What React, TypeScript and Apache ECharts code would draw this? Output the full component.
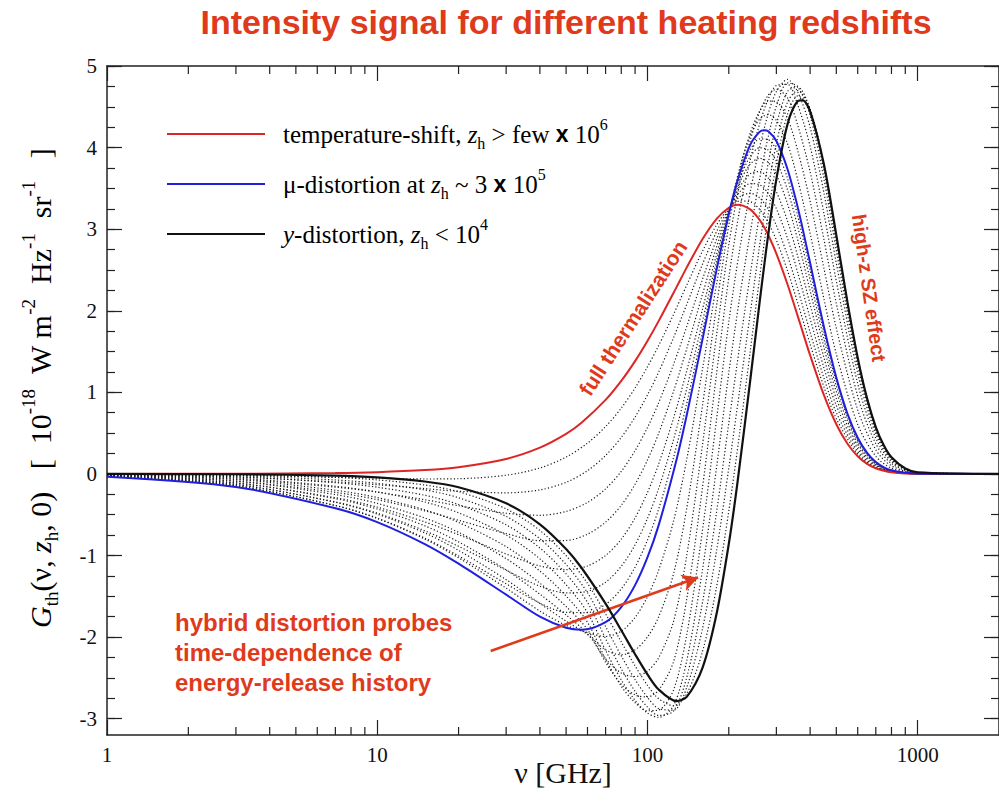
import { useEffect, useRef } from 'react';
import * as echarts from 'echarts';

// Frequency grid [GHz] of the three main curves
const mainFrequencies = [1, 3, 7, 10, 15, 20, 30, 40, 50, 57, 70, 80, 90, 100, 110, 128, 140, 160, 180, 200, 215, 240, 260, 270, 280, 300, 330, 360, 375, 400, 450, 500, 550, 600, 650, 700, 750, 800, 900, 1000, 2000];

// Main curves [1e-18 W m^-2 Hz^-1 sr^-1]
const temperatureShift = [0.0002, 0.0019, 0.0103, 0.021, 0.047, 0.083, 0.184, 0.322, 0.491, 0.627, 0.907, 1.14, 1.383, 1.63, 1.873, 2.287, 2.535, 2.88, 3.124, 3.263, 3.299, 3.243, 3.114, 3.027, 2.928, 2.7, 2.322, 1.934, 1.747, 1.454, 0.965, 0.609, 0.37, 0.217, 0.124, 0.069, 0.038, 0.02, 0.0056, 0.0015, 0];
const muDistortion = [-0.035, -0.16, -0.42, -0.59, -0.86, -1.1, -1.48, -1.75, -1.886, -1.911, -1.817, -1.632, -1.363, -1.024, -0.631, 0.168, 0.731, 1.655, 2.492, 3.184, 3.588, 4.033, 4.192, 4.213, 4.199, 4.08, 3.734, 3.267, 3.012, 2.585, 1.801, 1.181, 0.738, 0.444, 0.259, 0.146, 0.081, 0.044, 0.013, 0.0034, 0];
const yDistortion = [-0.0004, -0.0038, -0.0205, -0.042, -0.093, -0.164, -0.36, -0.617, -0.92, -1.15, -1.59, -1.916, -2.21, -2.457, -2.642, -2.784, -2.729, -2.374, -1.724, -0.859, -0.125, 1.142, 2.099, 2.536, 2.937, 3.612, 4.288, 4.57, 4.58, 4.445, 3.792, 2.927, 2.102, 1.425, 0.923, 0.575, 0.348, 0.205, 0.067, 0.02, 0];

// Frequency grid [GHz] of the dotted intermediate curves
const frequencies = [1, 3, 7, 10, 15, 20, 30, 40, 50, 60, 70, 80, 90, 100, 110, 125, 140, 160, 180, 200, 220, 240, 260, 280, 300, 330, 360, 400, 450, 500, 600, 700, 800, 1000, 2000];

// Intermediate (hybrid) curves between mu and y
const hybridMuY1 = [-0.002, -0.012, -0.043, -0.073, -0.136, -0.218, -0.428, -0.693, -1.002, -1.341, -1.715, -2.059, -2.353, -2.59, -2.755, -2.842, -2.689, -2.173, -1.394, -0.457, 0.53, 1.5, 2.403, 3.185, 3.806, 4.412, 4.633, 4.466, 3.787, 2.916, 1.419, 0.573, 0.204, 0.019, 0];
const hybridMuY2 = [-0.005, -0.023, -0.074, -0.115, -0.196, -0.292, -0.521, -0.795, -1.11, -1.456, -1.871, -2.23, -2.52, -2.739, -2.876, -2.895, -2.61, -1.891, -0.954, 0.07, 1.053, 1.964, 2.794, 3.5, 4.048, 4.559, 4.699, 4.475, 3.764, 2.887, 1.402, 0.566, 0.201, 0.018, 0];
const hybridMuY3 = [-0.007, -0.035, -0.108, -0.163, -0.262, -0.375, -0.624, -0.908, -1.225, -1.574, -2.019, -2.387, -2.665, -2.858, -2.96, -2.904, -2.485, -1.568, -0.481, 0.622, 1.594, 2.44, 3.19, 3.813, 4.282, 4.689, 4.741, 4.457, 3.714, 2.834, 1.373, 0.553, 0.197, 0.017, 0];
const hybridMuY4 = [-0.011, -0.051, -0.151, -0.221, -0.344, -0.476, -0.749, -1.041, -1.357, -1.7, -2.162, -2.524, -2.775, -2.93, -2.984, -2.839, -2.279, -1.165, 0.066, 1.236, 2.187, 2.954, 3.609, 4.135, 4.508, 4.794, 4.746, 4.391, 3.615, 2.739, 1.32, 0.53, 0.188, 0.015, 0];
const hybridMuY5 = [-0.015, -0.069, -0.2, -0.289, -0.44, -0.594, -0.891, -1.19, -1.496, -1.818, -2.27, -2.601, -2.804, -2.903, -2.894, -2.646, -1.958, -0.682, 0.656, 1.862, 2.773, 3.452, 4.001, 4.417, 4.686, 4.835, 4.68, 4.248, 3.443, 2.584, 1.232, 0.492, 0.174, 0.013, 0];
const hybridMuY6 = [-0.019, -0.09, -0.253, -0.361, -0.54, -0.716, -1.038, -1.339, -1.625, -1.908, -2.309, -2.577, -2.709, -2.733, -2.65, -2.298, -1.519, -0.158, 1.214, 2.404, 3.256, 3.846, 4.29, 4.596, 4.76, 4.775, 4.522, 4.016, 3.192, 2.363, 1.108, 0.438, 0.154, 0.011, 0];
const hybridMuY7 = [-0.024, -0.11, -0.303, -0.43, -0.636, -0.833, -1.176, -1.474, -1.729, -1.958, -2.267, -2.441, -2.483, -2.418, -2.254, -1.804, -0.986, 0.366, 1.687, 2.804, 3.58, 4.087, 4.436, 4.644, 4.714, 4.608, 4.272, 3.702, 2.873, 2.088, 0.954, 0.37, 0.128, 0.009, 0];
const hybridMuY8 = [-0.028, -0.129, -0.348, -0.492, -0.723, -0.937, -1.296, -1.587, -1.805, -1.967, -2.156, -2.217, -2.156, -1.999, -1.753, -1.22, -0.409, 0.849, 2.049, 3.047, 3.738, 4.175, 4.445, 4.571, 4.562, 4.357, 3.96, 3.341, 2.519, 1.786, 0.784, 0.296, 0.1, 0.007, 0];
const hybridMuY9 = [-0.032, -0.146, -0.388, -0.546, -0.799, -1.028, -1.4, -1.681, -1.856, -1.945, -1.993, -1.928, -1.759, -1.505, -1.181, -0.575, 0.19, 1.292, 2.317, 3.164, 3.763, 4.141, 4.348, 4.405, 4.333, 4.046, 3.605, 2.949, 2.144, 1.469, 0.606, 0.217, 0.071, 0.005, 0];

// Intermediate (hybrid) curves between temperature shift and mu
const hybridTMu1 = [-0.032, -0.147, -0.386, -0.541, -0.787, -1.005, -1.347, -1.584, -1.696, -1.699, -1.599, -1.41, -1.143, -0.812, -0.431, 0.205, 0.875, 1.753, 2.543, 3.19, 3.668, 3.97, 4.106, 4.097, 3.97, 3.621, 3.16, 2.495, 1.734, 1.135, 0.426, 0.14, 0.042, 0.003, 0];
const hybridTMu2 = [-0.029, -0.131, -0.343, -0.48, -0.697, -0.887, -1.18, -1.377, -1.458, -1.439, -1.327, -1.133, -0.869, -0.546, -0.18, 0.424, 1.056, 1.876, 2.606, 3.198, 3.628, 3.891, 3.998, 3.97, 3.832, 3.48, 3.027, 2.381, 1.651, 1.078, 0.403, 0.132, 0.04, 0.003, 0];
const hybridTMu3 = [-0.024, -0.111, -0.291, -0.407, -0.588, -0.745, -0.981, -1.128, -1.173, -1.128, -1.0, -0.8, -0.539, -0.228, 0.12, 0.687, 1.272, 2.023, 2.682, 3.208, 3.579, 3.796, 3.869, 3.818, 3.666, 3.31, 2.867, 2.246, 1.55, 1.009, 0.376, 0.123, 0.037, 0.003, 0];
const hybridTMu4 = [-0.019, -0.087, -0.226, -0.315, -0.452, -0.568, -0.731, -0.818, -0.816, -0.739, -0.591, -0.385, -0.127, 0.17, 0.496, 1.016, 1.543, 2.206, 2.776, 3.22, 3.519, 3.678, 3.707, 3.627, 3.459, 3.099, 2.667, 2.076, 1.425, 0.924, 0.342, 0.111, 0.033, 0.003, 0];
const hybridTMu5 = [-0.014, -0.063, -0.162, -0.223, -0.316, -0.39, -0.482, -0.507, -0.46, -0.35, -0.183, 0.031, 0.285, 0.568, 0.871, 1.345, 1.813, 2.39, 2.871, 3.231, 3.459, 3.559, 3.545, 3.436, 3.252, 2.887, 2.467, 1.906, 1.299, 0.838, 0.308, 0.1, 0.03, 0.002, 0];
const hybridTMu6 = [-0.009, -0.039, -0.097, -0.132, -0.18, -0.213, -0.232, -0.196, -0.103, 0.04, 0.226, 0.447, 0.697, 0.967, 1.247, 1.673, 2.084, 2.574, 2.966, 3.243, 3.399, 3.441, 3.384, 3.246, 3.045, 2.675, 2.267, 1.737, 1.174, 0.752, 0.274, 0.088, 0.026, 0.002, 0];
const hybridTMu7 = [-0.004, -0.018, -0.041, -0.052, -0.062, -0.059, -0.016, 0.073, 0.206, 0.377, 0.58, 0.807, 1.053, 1.312, 1.573, 1.958, 2.319, 2.733, 3.048, 3.254, 3.346, 3.338, 3.243, 3.081, 2.866, 2.491, 2.094, 1.59, 1.065, 0.678, 0.244, 0.078, 0.023, 0.002, 0];

// Axis tick values
const xMinorTicks = [2, 3, 4, 5, 6, 7, 8, 9, 20, 30, 40, 50, 60, 70, 80, 90, 200, 300, 400, 500, 600, 700, 800, 900];
const yMajorTicks = [-3, -2, -1, 0, 1, 2, 3, 4, 5];
const yMinorTicks = [-3, -2.75, -2.5, -2.25, -2, -1.75, -1.5, -1.25, -1, -0.75, -0.5, -0.25, 0, 0.25, 0.5, 0.75, 1, 1.25, 1.5, 1.75, 2, 2.25, 2.5, 2.75, 3, 3.25, 3.5, 3.75, 4, 4.25, 4.5, 4.75, 5];

const hybridCurves = [
  hybridTMu1, hybridTMu2, hybridTMu3, hybridTMu4, hybridTMu5, hybridTMu6, hybridTMu7,
  hybridMuY1, hybridMuY2, hybridMuY3, hybridMuY4, hybridMuY5, hybridMuY6, hybridMuY7, hybridMuY8, hybridMuY9,
];

const Y_MIN = -3.2;
const Y_MAX = 5;
const X_MIN = 1;
const X_MAX = 2000;

const SERIF = '"Liberation Serif", "Times New Roman", serif';
const SANS = '"Liberation Sans", Arial, Helvetica, sans-serif';
const ANNOT = '#e03a1c';
const AXIS = '#222';
const SMOOTH = 0.3;

const toPairs = (xs: number[], vals: number[]) => xs.map((f, i) => [f, vals[i]]);

const richBase = (size: number) => {
  const L = Math.round(size * 1.4);
  return {
    n: { fontFamily: SERIF, fontSize: size, color: '#111', lineHeight: L },
    i: { fontFamily: SERIF, fontSize: size, fontStyle: 'italic', color: '#111', lineHeight: L },
    s: { fontFamily: SERIF, fontSize: Math.round(size * 0.62), color: '#111', lineHeight: Math.round(size * 0.8), verticalAlign: 'bottom' },
    p: { fontFamily: SERIF, fontSize: Math.round(size * 0.64), color: '#111', lineHeight: Math.round(size * 0.5), verticalAlign: 'top' },
    x: { fontFamily: SANS, fontSize: size - 2, fontWeight: 'bold', color: '#111', lineHeight: L },
  };
};

function buildOption(): any {
  const dottedSeries = hybridCurves.map((vals) => ({
    type: 'line',
    data: toPairs(frequencies, vals),
    xAxisIndex: 0,
    yAxisIndex: 0,
    showSymbol: false,
    symbol: 'none',
    smooth: SMOOTH,
    silent: true,
    z: 2,
    lineStyle: { color: '#1a1a1a', width: 1.2, type: [1.2, 2.2] },
  }));

  const mainLine = (vals: number[], color: string, width: number, z: number) => ({
    type: 'line',
    data: toPairs(mainFrequencies, vals),
    xAxisIndex: 0,
    yAxisIndex: 0,
    showSymbol: false,
    symbol: 'none',
    smooth: SMOOTH,
    silent: true,
    z,
    lineStyle: { color, width },
  });

  const blackSeries: any = mainLine(yDistortion, '#111', 2.2, 5);
  blackSeries.markLine = {
    silent: true,
    symbol: ['none', 'arrow'],
    symbolSize: [13, 16],
    label: { show: false },
    lineStyle: { color: ANNOT, width: 2.5, type: 'solid' },
    emphasis: { disabled: true },
    data: [[{ coord: [26.3, -2.17] }, { coord: [154, -1.27] }]],
  };

  const minorTickSeries = {
    type: 'custom',
    xAxisIndex: 0,
    yAxisIndex: 0,
    silent: true,
    clip: false,
    z: 10,
    data: xMinorTicks.map((v) => [v, 0]),
    renderItem: (_params: any, api: any) => {
      const v = api.value(0);
      const b = api.coord([v, Y_MIN]);
      const t = api.coord([v, Y_MAX]);
      return {
        type: 'group',
        children: [
          { type: 'line', shape: { x1: b[0], y1: b[1], x2: b[0], y2: b[1] - 8 }, style: { stroke: AXIS, lineWidth: 1.2 } },
          { type: 'line', shape: { x1: t[0], y1: t[1], x2: t[0], y2: t[1] + 8 }, style: { stroke: AXIS, lineWidth: 1.2 } },
        ],
      };
    },
  };

  const xAxisBase = {
    type: 'log',
    logBase: 10,
    min: X_MIN,
    max: X_MAX,
    gridIndex: 0,
    splitLine: { show: false },
    axisLine: { show: true, onZero: false, lineStyle: { color: AXIS, width: 1.5 } },
    axisTick: { show: true, inside: true, length: 15, lineStyle: { color: AXIS, width: 1.2 } },
  };

  const yAxisBase = {
    type: 'value',
    min: Y_MIN,
    max: Y_MAX,
    gridIndex: 0,
    splitLine: { show: false },
  };

  const legendText = (y: number, text: string) => ({
    type: 'text',
    x: 283,
    y,
    style: { text, rich: richBase(25), align: 'left', verticalAlign: 'middle' },
  });

  return {
    animation: false,
    backgroundColor: '#ffffff',
    grid: { left: 107, top: 66, right: 0, bottom: 58, containLabel: false },
    xAxis: [
      {
        ...xAxisBase,
        position: 'bottom',
        axisLabel: {
          show: true,
          margin: 9,
          fontFamily: SERIF,
          fontSize: 21,
          color: '#111',
          showMaxLabel: false,
          formatter: (v: number) => String(Math.round(v)),
        },
      },
      { ...xAxisBase, position: 'top', axisLabel: { show: false } },
    ],
    yAxis: [
      {
        ...yAxisBase,
        position: 'left',
        axisLine: { show: true, onZero: false, lineStyle: { color: AXIS, width: 1.5 } },
        axisTick: { show: true, inside: true, length: 15, customValues: yMajorTicks, lineStyle: { color: AXIS, width: 1.2 } },
        axisLabel: { show: true, customValues: yMajorTicks, margin: 10, fontFamily: SERIF, fontSize: 21, color: '#111' },
      },
      {
        ...yAxisBase,
        position: 'left',
        axisLine: { show: false, onZero: false },
        axisTick: { show: true, inside: true, length: 8, customValues: yMinorTicks, lineStyle: { color: AXIS, width: 1.2 } },
        axisLabel: { show: false, customValues: yMinorTicks },
      },
      {
        ...yAxisBase,
        position: 'right',
        axisLine: { show: true, onZero: false, lineStyle: { color: AXIS, width: 1.5 } },
        axisTick: { show: true, inside: true, length: 15, customValues: yMajorTicks, lineStyle: { color: AXIS, width: 1.2 } },
        axisLabel: { show: false, customValues: yMajorTicks },
      },
      {
        ...yAxisBase,
        position: 'right',
        axisLine: { show: false, onZero: false },
        axisTick: { show: true, inside: true, length: 8, customValues: yMinorTicks, lineStyle: { color: AXIS, width: 1.2 } },
        axisLabel: { show: false, customValues: yMinorTicks },
      },
    ],
    series: [
      ...dottedSeries,
      mainLine(temperatureShift, '#dd2525', 2, 4),
      mainLine(muDistortion, '#1f1fe0', 2, 4),
      blackSeries,
      minorTickSeries,
    ],
    graphic: [
      {
        type: 'text',
        x: 566,
        y: 22,
        style: {
          text: 'Intensity signal for different heating redshifts',
          fill: ANNOT,
          font: `bold 34px ${SANS}`,
          align: 'center',
          verticalAlign: 'middle',
        },
      },
      // legend
      { type: 'line', shape: { x1: 167, y1: 134, x2: 265, y2: 134 }, style: { stroke: '#dd2525', lineWidth: 2 } },
      { type: 'line', shape: { x1: 167, y1: 184, x2: 265, y2: 184 }, style: { stroke: '#1f1fe0', lineWidth: 2 } },
      { type: 'line', shape: { x1: 167, y1: 234, x2: 265, y2: 234 }, style: { stroke: '#111', lineWidth: 2.2 } },
      legendText(134, '{n|temperature-shift, }{i|z}{s|h}{n| > few }{x|x}{n| 10}{p|6}'),
      legendText(184, '{n|μ-distortion at }{i|z}{s|h}{n| ~ 3 }{x|x}{n| 10}{p|5}'),
      legendText(234, '{i|y}{n|-distortion, }{i|z}{s|h}{n| < 10}{p|4}'),
      // axis titles
      {
        type: 'text',
        x: 563,
        y: 772,
        style: {
          text: 'ν [GHz]',
          font: `30px ${SERIF}`,
          fill: '#111',
          align: 'center',
          verticalAlign: 'middle',
        },
      },
      {
        type: 'text',
        x: 40,
        y: 388,
        rotation: Math.PI / 2,
        style: {
          text: '{i|G}{s|th}{n|(ν, }{i|z}{s|h}{n|, 0)   [  10}{p|-18}{n|  W m}{p|-2}{n|  Hz}{p|-1}{n|  sr}{p|-1}{n|   ]}',
          rich: richBase(30),
          align: 'center',
          verticalAlign: 'middle',
        },
      },
      // annotations
      {
        type: 'text',
        x: 633,
        y: 318,
        rotation: (57 * Math.PI) / 180,
        style: {
          text: 'full thermalization',
          fill: ANNOT,
          font: `bold 21px ${SANS}`,
          align: 'center',
          verticalAlign: 'middle',
        },
      },
      {
        type: 'text',
        x: 869,
        y: 288,
        rotation: (-82 * Math.PI) / 180,
        style: {
          text: 'high-z SZ effect',
          fill: ANNOT,
          font: `bold 20px ${SANS}`,
          align: 'center',
          verticalAlign: 'middle',
        },
      },
      {
        type: 'text',
        x: 175,
        y: 607,
        style: {
          text: 'hybrid distortion probes\ntime-dependence of\nenergy-release history',
          fill: ANNOT,
          font: `bold 24px ${SANS}`,
          lineHeight: 30,
          align: 'left',
          verticalAlign: 'top',
        },
      },
    ],
  };
}

export default function App() {
  const ref = useRef<HTMLDivElement>(null);
  useEffect(() => {
    if (!ref.current) return;
    const chart = echarts.init(ref.current, null, { renderer: 'svg' });
    chart.setOption(buildOption());
    return () => {
      chart.dispose();
    };
  }, []);
  return (
    <div
      ref={ref}
      style={{ position: 'absolute', left: 0, top: 0, width: 999, height: 793, background: '#fff' }}
    />
  );
}
